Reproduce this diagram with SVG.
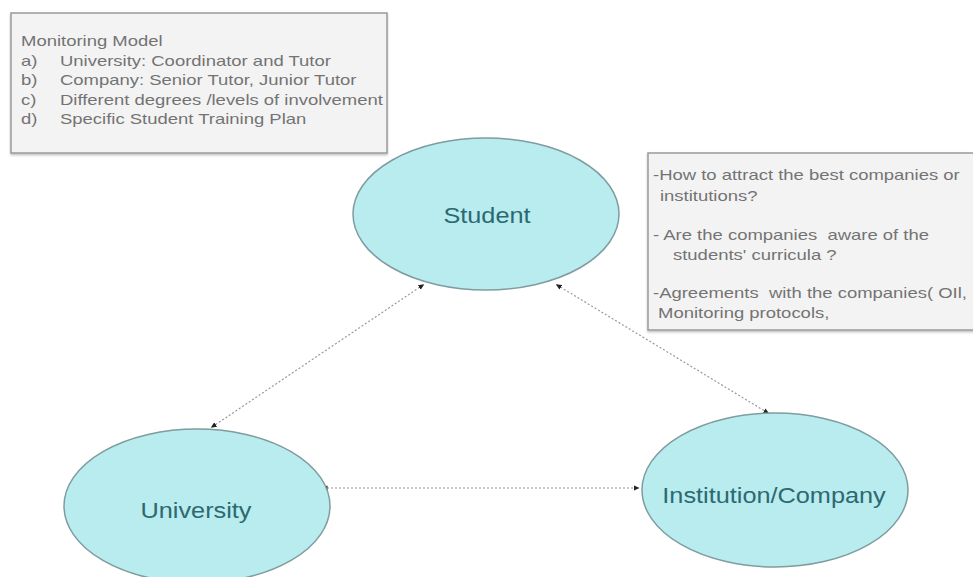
<svg xmlns="http://www.w3.org/2000/svg" width="973" height="577" viewBox="0 0 973 577">
<defs>
<marker id="dot" viewBox="0 0 8 8" refX="6" refY="4" markerWidth="6" markerHeight="6" orient="auto-start-reverse" markerUnits="userSpaceOnUse">
<path d="M0,0.5 L8,4 L0,7.5 z" fill="#222"/>
</marker>
<filter id="sh" x="-5%" y="-5%" width="110%" height="115%">
<feDropShadow dx="0" dy="1.5" stdDeviation="1.2" flood-color="#000" flood-opacity="0.25"/>
</filter>
</defs>
<style>
.box{fill:#f3f3f3;stroke:#9a9a9a;stroke-width:1.5}
.bt{font-family:"Liberation Sans",Arial,sans-serif;font-size:14px;fill:#737373;white-space:pre}
.node{fill:#b8ecef;stroke:#7f9c9e;stroke-width:1.5}
.lbl{font-family:"Liberation Sans",Arial,sans-serif;font-size:22px;fill:#2d6970;text-anchor:middle}
.con{fill:none;stroke:#999;stroke-width:1.2;stroke-dasharray:2 2;marker-start:url(#dot);marker-end:url(#dot)}
</style>
<rect width="973" height="577" fill="#fff"/>
<g id="monitoring-box">
<rect class="box" x="11" y="13" width="376" height="140" filter="url(#sh)"/>
<text class="bt" transform="translate(21,46) scale(1.32,1)">Monitoring Model</text>
<text class="bt" transform="translate(21,66) scale(1.32,1)">a)</text>
<text class="bt" transform="translate(60,66) scale(1.32,1)">University: Coordinator and Tutor</text>
<text class="bt" transform="translate(21,85) scale(1.32,1)">b)</text>
<text class="bt" transform="translate(60,85) scale(1.32,1)">Company: Senior Tutor, Junior Tutor</text>
<text class="bt" transform="translate(21,105) scale(1.32,1)">c)</text>
<text class="bt" transform="translate(60,105) scale(1.32,1)">Different degrees /levels of involvement</text>
<text class="bt" transform="translate(21,124) scale(1.32,1)">d)</text>
<text class="bt" transform="translate(60,124) scale(1.32,1)">Specific Student Training Plan</text>
</g>
<g id="questions-box">
<rect class="box" x="648" y="153" width="330" height="177" filter="url(#sh)"/>
<text class="bt" transform="translate(653,180) scale(1.32,1)">-How to attract the best companies or</text>
<text class="bt" transform="translate(660,201) scale(1.32,1)">institutions?</text>
<text class="bt" transform="translate(653,240) scale(1.32,1)">- Are the companies  aware of the</text>
<text class="bt" transform="translate(673,260) scale(1.32,1)">students' curricula ?</text>
<text class="bt" transform="translate(653,298) scale(1.32,1)">-Agreements  with the companies( OIl,</text>
<text class="bt" transform="translate(658,318) scale(1.32,1)">Monitoring protocols,</text>
</g>
<g id="connectors">
<line class="con" x1="423" y1="285" x2="212" y2="427"/>
<line class="con" x1="557" y1="285" x2="768" y2="413"/>
<line class="con" x1="323" y1="488" x2="638" y2="488"/>
</g>
<g id="student">
<ellipse class="node" cx="486" cy="214" rx="133" ry="76"/>
<text class="lbl" transform="translate(487,223) scale(1.15,1)">Student</text>
</g>
<g id="university">
<ellipse class="node" cx="197" cy="506" rx="133" ry="77"/>
<text class="lbl" transform="translate(196,518) scale(1.15,1)">University</text>
</g>
<g id="institution">
<ellipse class="node" cx="775" cy="490" rx="133" ry="77"/>
<text class="lbl" transform="translate(774,503) scale(1.15,1)">Institution/Company</text>
</g>
</svg>
